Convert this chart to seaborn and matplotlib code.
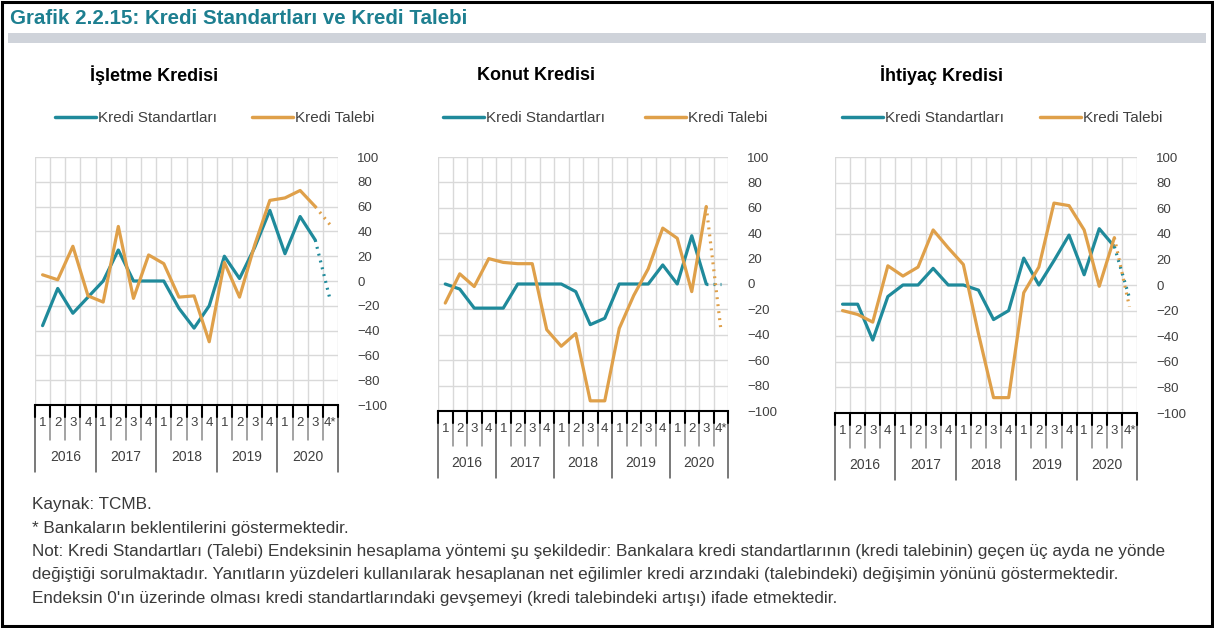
import numpy as np
import pandas as pd
import matplotlib
matplotlib.use("Agg")
import matplotlib.pyplot as plt
import matplotlib.transforms as mtransforms
from matplotlib.patches import Rectangle
from matplotlib.lines import Line2D
import seaborn as sns

# ---------------- data ----------------
quarter_labels = ["1", "2", "3", "4"] * 4 + ["1", "2", "3", "4*"]
years = ["2016", "2017", "2018", "2019", "2020"]
panel_titles = ["İşletme Kredisi", "Konut Kredisi", "İhtiyaç Kredisi"]
series_names = ["Kredi Standartları", "Kredi Talebi"]

isletme_std = [-36, -6, -26, -13, 0, 25, 0, 0, 0, -22, -38, -20, 20, 2, 27, 57, 22, 52, 33, -16]
isletme_tal = [5, 1, 28, -12, -17, 44, -14, 21, 14, -13, -12, -49, 15, -13, 29, 65, 67, 73, 60, 45]
konut_std = [0, -4, -19, -19, -19, 0, 0, 0, 0, -6, -32, -27, 0, 0, 0, 15, 0, 38, 0, 0]
konut_tal = [-15, 8, -2, 20, 17, 16, 16, -36, -49, -39, -92, -92, -35, -9, 12, 44, 36, -6, 61, -35]
ihtiyac_std = [-15, -15, -43, -9, 0, 0, 13, 0, 0, -4, -27, -20, 21, 0, 19, 39, 8, 44, 30, -10]
ihtiyac_tal = [-20, -23, -29, 15, 7, 14, 43, 29, 16, -38, -88, -88, -6, 14, 64, 62, 43, -1, 37, -17]

panels = [(isletme_std, isletme_tal), (konut_std, konut_tal), (ihtiyac_std, ihtiyac_tal)]

footnotes = [
    "Kaynak: TCMB.",
    "* Bankaların beklentilerini göstermektedir.",
    "Not: Kredi Standartları (Talebi) Endeksinin hesaplama yöntemi şu şekildedir: Bankalara kredi standartlarının (kredi talebinin) geçen üç ayda ne yönde",
    "değiştiği sorulmaktadır. Yanıtların yüzdeleri kullanılarak hesaplanan net eğilimler kredi arzındaki (talebindeki) değişimin yönünü göstermektedir.",
    "Endeksin 0'ın üzerinde olması kredi standartlarındaki gevşemeyi (kredi talebindeki artışı) ifade etmektedir.",
]

# ---------------- style ----------------
TEAL = "#1f8a9b"
ORANGE = "#dfa04a"
palette = {series_names[0]: TEAL, series_names[1]: ORANGE}

sns.set_theme(style="white")
plt.rcParams["font.family"] = ["Liberation Sans", "DejaVu Sans"]

W, H = 1214, 628
fig = plt.figure(figsize=(W / 100, H / 100), dpi=100)

def fx(px):
    return px / W

def fy(py):
    return 1 - py / H

# frame + title band
fig.patches.append(Rectangle((fx(2), fy(626)), fx(1210), 624 / H, transform=fig.transFigure,
                             fill=False, edgecolor="black", linewidth=2.2))
fig.patches.append(Rectangle((fx(8), fy(43)), fx(1198), 10 / H, transform=fig.transFigure,
                             facecolor="#cfd3da", edgecolor="none"))
fig.text(fx(10), fy(18), "Grafik 2.2.15: Kredi Standartları ve Kredi Talebi", color="#1d7f90",
         fontsize=14.8, fontweight="bold", va="center", ha="left")

# axes rectangles (pixel)
boxes = [(35, 338, 157, 405), (438, 728, 157, 411), (835, 1137, 157, 413)]
title_x = [154, 536, 942]
legend_x = [(55, 252), (443, 645), (842, 1040)]

n = len(quarter_labels)
idx = np.arange(n)

for k, ((std, tal), (x0, x1, y0, y1)) in enumerate(zip(panels, boxes)):
    ax = fig.add_axes([fx(x0), fy(y1), fx(x1 - x0), (y1 - y0) / H])
    df = pd.DataFrame({
        "idx": np.concatenate([idx, idx]),
        "value": std + tal,
        "series": [series_names[0]] * n + [series_names[1]] * n,
    })
    solid = df[df["idx"] <= n - 2]
    dotted = df[df["idx"] >= n - 2]
    sns.lineplot(data=solid, x="idx", y="value", hue="series", palette=palette,
                 linewidth=2.3, ax=ax, legend=False)
    sns.lineplot(data=dotted, x="idx", y="value", hue="series", palette=palette,
                 linewidth=2.3, linestyle=(0, (0.6, 1.6)), ax=ax, legend=False)

    ax.set_xlim(-0.5, n - 0.5)
    ax.set_ylim(-100, 100)
    ax.set_yticks(np.arange(-100, 101, 20))
    ax.yaxis.tick_right()
    ax.tick_params(axis="y", length=0, labelsize=9.5, labelcolor="#404040", pad=14)
    ax.set_xticks(idx)
    ax.set_xticklabels(quarter_labels)
    ax.tick_params(axis="x", length=0, labelsize=9.5, labelcolor="#404040", pad=9)
    ax.set_xticks(np.arange(-0.5, n, 1.0), minor=True)
    ax.grid(False)
    ax.grid(True, which="minor", axis="x", color="#d9d9d9", linewidth=1)
    ax.grid(True, which="major", axis="y", color="#d9d9d9", linewidth=1)
    ax.set_axisbelow(True)
    ax.set_xlabel("")
    ax.set_ylabel("")
    for s in ["top", "left", "right"]:
        ax.spines[s].set_visible(False)
    ax.spines["bottom"].set_color("black")
    ax.spines["bottom"].set_linewidth(1.5)

    # category table below axis
    trans = mtransforms.blended_transform_factory(ax.transData, ax.transAxes)
    ph = (y1 - y0)
    q_bottom = -35 / ph
    y_bottom = -67 / ph
    for b in np.arange(-0.5, n, 1.0):
        is_year = abs(((b + 0.5) % 4)) < 1e-9
        ax.add_line(Line2D([b, b], [0, y_bottom if is_year else q_bottom], transform=trans,
                           color="#555555" if is_year else "#8a8a8a", linewidth=1.1, clip_on=False))
        ax.add_line(Line2D([b, b], [0, -12 / ph], transform=trans,
                           color="black", linewidth=1.5, clip_on=False))
    for j, yr in enumerate(years):
        ax.text(j * 4 + 1.5, -52 / ph, yr, transform=trans, ha="center", va="center",
                fontsize=10, color="#404040")

    # panel title and legend
    fig.text(fx(title_x[k]), fy(75), panel_titles[k], ha="center", va="center",
             fontsize=13, fontweight="bold", color="black")
    handles = [Line2D([], [], color=TEAL, linewidth=2.5), Line2D([], [], color=ORANGE, linewidth=2.5)]
    lx0, lx1 = legend_x[k]
    for h, name, lx in [(handles[0], series_names[0], lx0), (handles[1], series_names[1], lx1)]:
        leg = fig.legend([h], [name], loc="center left",
                         bbox_to_anchor=(fx(lx - 6), fy(118)), frameon=False, fontsize=11,
                         handlelength=2.7, handletextpad=0.1, borderaxespad=0)
        for t in leg.get_texts():
            t.set_color("#404040")

# footnotes
for i, line in enumerate(footnotes):
    fig.text(fx(32), fy(505 + i * 23.3), line, ha="left", va="center", fontsize=12.3, color="#3a3a3a")

fig.savefig("out.png", dpi=100)
